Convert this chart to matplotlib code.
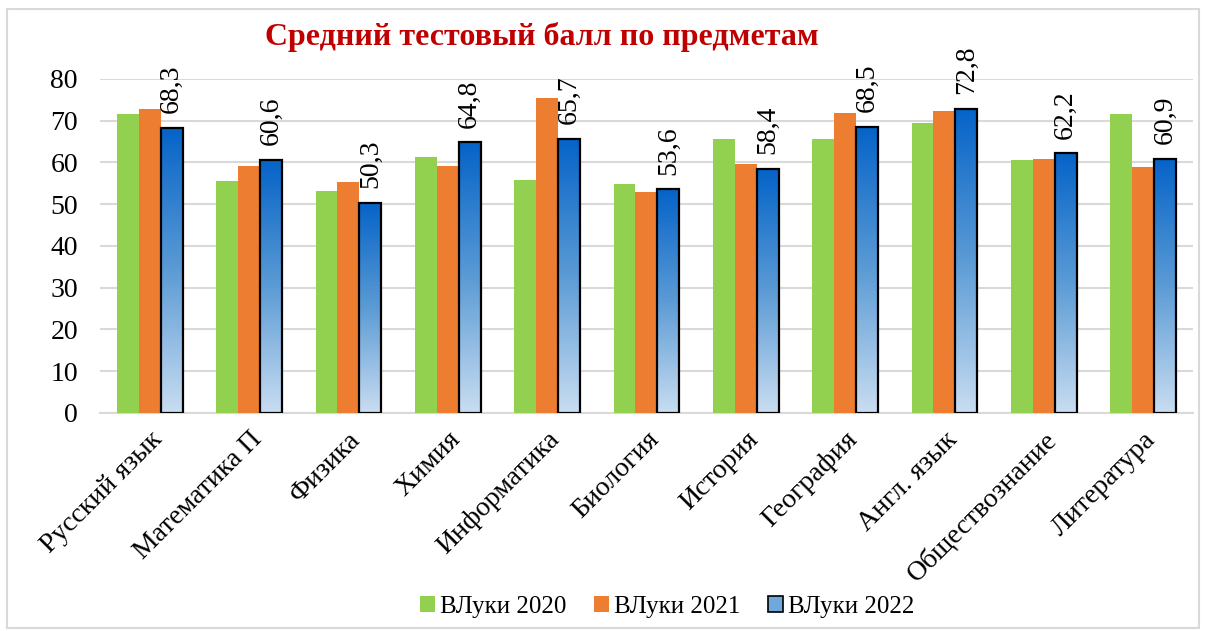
import numpy as np
import matplotlib.pyplot as plt
from matplotlib.patches import Patch, Rectangle
from matplotlib.colors import LinearSegmentedColormap

plt.rcParams['font.family'] = ['Liberation Serif', 'DejaVu Serif']

subjects = ['Русский язык', 'Математика П', 'Физика', 'Химия', 'Информатика', 'Биология',
            'История', 'География', 'Англ. язык', 'Обществознание', 'Литература']
v2020 = [71.7, 55.6, 53.1, 61.2, 55.8, 54.8, 65.6, 65.6, 69.4, 60.6, 71.6]
v2021 = [72.8, 59.2, 55.3, 59.2, 75.4, 52.9, 59.6, 71.8, 72.4, 60.8, 58.8]
v2022 = [68.3, 60.6, 50.3, 64.8, 65.7, 53.6, 58.4, 68.5, 72.8, 62.2, 60.9]
series_names = ['ВЛуки 2020', 'ВЛуки 2021', 'ВЛуки 2022']

green = '#92D050'
orange = '#ED7D31'
blue_cmap = LinearSegmentedColormap.from_list('b', ['#C9DDF1', '#5B9BD5', '#0563C8'])

fig = plt.figure(figsize=(12.06, 6.31), dpi=100)
ax = fig.add_axes([0.083, 0.3455, 0.906, 0.5295])

x = np.arange(len(subjects))
w = 0.22
ax.bar(x - w, v2020, w, color=green, zorder=3)
ax.bar(x, v2021, w, color=orange, zorder=3)

grad = np.linspace(1, 0, 256).reshape(-1, 1)
for xi, v in zip(x, v2022):
    ax.imshow(grad, cmap=blue_cmap, vmin=0, vmax=1, aspect='auto',
              extent=(xi + w / 2, xi + 1.5 * w, 0, v), zorder=3)
    ax.add_patch(Rectangle((xi + w / 2, 0), w, v, facecolor='none',
                           edgecolor='black', linewidth=1.6, zorder=4))
    ax.text(xi + w, v + 3.5, f'{v:.1f}'.replace('.', ','), rotation=90,
            ha='center', va='bottom', fontsize=20, zorder=5, clip_on=False)

ax.set_xlim(-0.5, len(subjects) - 0.5)
ax.set_ylim(0, 80)
ax.set_yticks(range(0, 81, 10))
ax.tick_params(axis='y', length=0, labelsize=20, pad=16)
ax.tick_params(axis='x', length=0, pad=10)
ax.set_xticks(x)
ax.set_xticklabels(subjects, rotation=45, ha='right', rotation_mode='anchor', fontsize=20)
ax.grid(axis='y', color='#D9D9D9', linewidth=1.5, zorder=0)
for s in ['top', 'right', 'left']:
    ax.spines[s].set_visible(False)
ax.spines['bottom'].set_color('#D9D9D9')
ax.spines['bottom'].set_linewidth(1.5)

fig.text(0.449, 0.942, 'Средний тестовый балл по предметам', color='#C00000',
         fontsize=23, fontweight='bold', ha='center', va='center')

handles = [Patch(facecolor=green), Patch(facecolor=orange),
           Patch(facecolor='#6FA8DC', edgecolor='black', linewidth=1.2)]
fig.legend(handles, series_names, loc='center', bbox_to_anchor=(0.553, 0.038), ncol=3,
           frameon=False, fontsize=18, handlelength=0.6, handleheight=0.6,
           handletextpad=0.2, columnspacing=1.1)

fig.add_artist(Rectangle((0.006, 0.004), 0.988, 0.982, transform=fig.transFigure,
                         facecolor='none', edgecolor='#D9D9D9', linewidth=1.5))

fig.savefig('out.png', dpi=100)
